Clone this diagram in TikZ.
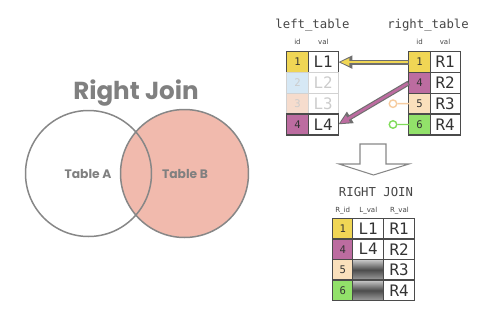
\documentclass[tikz,border=0pt]{standalone}
\usepackage{fontspec}
\usepackage{tikz}
\usetikzlibrary{positioning,arrows.meta}

\newfontfamily\popfont{Poppins}
\newfontfamily\monofont{DejaVu Sans Mono}
\newfontfamily\labfont{DejaVu Sans}

\definecolor{vennline}{RGB}{135,135,135}
\definecolor{venntext}{RGB}{128,128,128}
\definecolor{salmon}{RGB}{241,186,173}
\definecolor{cellline}{RGB}{75,75,75}
\definecolor{keyyellow}{RGB}{240,214,85}
\definecolor{keypurple}{RGB}{188,108,160}
\definecolor{keyblue}{RGB}{214,232,245}
\definecolor{keypeach}{RGB}{246,220,205}
\definecolor{keysand}{RGB}{250,224,188}
\definecolor{keygreen}{RGB}{146,225,106}
\definecolor{dotpeach}{RGB}{246,204,160}
\definecolor{dotgreen}{RGB}{128,220,90}
\definecolor{hdtext}{RGB}{70,70,70}

\begin{document}
\begin{tikzpicture}[x=0.02cm, y=-0.02cm,
	venn/.style={draw=vennline, line width=0.85pt},
	cell/.style={draw=cellline, line width=0.8pt, inner sep=0pt, outer sep=0pt,
		minimum height=0.416cm, text=black!80, font=\monofont\fontsize{9}{9}\selectfont},
	idcell/.style={cell, minimum width=0.43cm, font=\monofont\fontsize{6}{6}\selectfont},
	valcell/.style={cell, minimum width=0.6cm},
	faded/.style={draw=gray!35, text=gray!40},
	nullcell/.style={top color=gray!40, bottom color=gray!75, middle color=black!70},
	tabhead/.style={text=hdtext, font=\monofont\fontsize{7}{7}\selectfont},
	colhead/.style={text=hdtext, font=\labfont\fontsize{4}{4}\selectfont},
	dot/.style={circle, draw, fill=white, line width=0.8pt, inner sep=0pt, minimum size=0.15cm}]
	\useasboundingbox (0,0) rectangle (484,318);

	% venn diagram
	\node[text=venntext, font=\popfont\bfseries\fontsize{14}{14}\selectfont] (title) at (136,93) {Right Join};
	\fill[salmon] (184.5,173.5) circle (64);
	\draw[venn] (88.5,173.5) circle (63);
	\draw[venn] (184.5,173.5) circle (64);
	\node[text=venntext, font=\popfont\bfseries\fontsize{7}{7}\selectfont] (tA) at (88,174) {Table A};
	\node[text=venntext, font=\popfont\bfseries\fontsize{7}{7}\selectfont] (tB) at (185,174) {Table B};

	% left table
	\node[tabhead] (lhead) at (312.5,25) {left\_table};
	\node[colhead] at (297.5,42) {id};
	\node[colhead] at (323.3,42) {val};
	\node[idcell, fill=keyyellow] (l1id) at (297.5,62.1) {1};
	\node[valcell, right=0pt of l1id] (l1val) {L1};
	\node[idcell, faded, fill=keyblue, below=0pt of l1id] (l2id) {2};
	\node[valcell, faded, right=0pt of l2id] (l2val) {L2};
	\node[idcell, faded, fill=keypeach, below=0pt of l2id] (l3id) {3};
	\node[valcell, faded, right=0pt of l3id] (l3val) {L3};
	\node[idcell, fill=keypurple, below=0pt of l3id] (l4id) {4};
	\node[valcell, right=0pt of l4id] (l4val) {L4};

	% right table
	\node[tabhead] (rhead) at (428,25) {right\_table};
	\node[colhead] at (419.5,42) {id};
	\node[colhead] at (445,42) {val};
	\node[idcell, fill=keyyellow] (r1id) at (419.5,62.1) {1};
	\node[valcell, right=0pt of r1id] (r1val) {R1};
	\node[idcell, fill=keypurple, below=0pt of r1id] (r2id) {4};
	\node[valcell, right=0pt of r2id] (r2val) {R2};
	\node[idcell, fill=keysand, below=0pt of r2id] (r3id) {5};
	\node[valcell, right=0pt of r3id] (r3val) {R3};
	\node[idcell, fill=keygreen, below=0pt of r3id] (r4id) {6};
	\node[valcell, right=0pt of r4id] (r4val) {R4};

	% matches
	\draw[line width=2.8pt, cellline!80, -{Triangle[length=8pt, width=7pt]}] (r1id.west) -- (l1val.east);
	\draw[line width=1.5pt, keyyellow, -{Triangle[length=5.2pt, width=4.2pt]}, shorten <=0.6pt, shorten >=1.2pt] (r1id.west) -- (l1val.east);
	\draw[line width=2.8pt, cellline!80, -{Triangle[length=8pt, width=7pt]}] (r2id.west) -- (l4val.east);
	\draw[line width=1.5pt, keypurple, -{Triangle[length=5.2pt, width=4.2pt]}, shorten <=0.6pt, shorten >=1.2pt] (r2id.west) -- (l4val.east);
	\node[dot, draw=dotpeach] (d3) at (393,103.7) {};
	\draw[dotpeach, line width=0.8pt] (d3) -- (r3id);
	\node[dot, draw=dotgreen] (d4) at (393,124.5) {};
	\draw[dotgreen, line width=0.8pt] (d4) -- (r4id);

	% big arrow down
	\draw[vennline, line width=0.6pt] (360,144) -- (386,144) -- (386,164) -- (409,164)
		-- (373.5,175) -- (339,164) -- (360,164) -- cycle;

	% result table
	\node[tabhead] (jhead) at (376,191.7) {RIGHT JOIN};
	\node[colhead] at (342.7,210.7) {R\_id};
	\node[colhead] at (368.3,210.7) {L\_val};
	\node[colhead] at (399.5,210.7) {R\_val};
	\node[idcell, minimum width=0.4cm, minimum height=0.412cm, fill=keyyellow] (j1id) at (342.7,228.6) {1};
	\node[valcell, minimum width=0.62cm, minimum height=0.412cm, right=0pt of j1id] (j1l) {L1};
	\node[valcell, minimum width=0.62cm, minimum height=0.412cm, right=0pt of j1l] (j1r) {R1};
	\node[idcell, minimum width=0.4cm, minimum height=0.412cm, fill=keypurple, below=0pt of j1id] (j2id) {4};
	\node[valcell, minimum width=0.62cm, minimum height=0.412cm, right=0pt of j2id] (j2l) {L4};
	\node[valcell, minimum width=0.62cm, minimum height=0.412cm, right=0pt of j2l] (j2r) {R2};
	\node[idcell, minimum width=0.4cm, minimum height=0.412cm, fill=keysand, below=0pt of j2id] (j3id) {5};
	\node[valcell, nullcell, minimum width=0.62cm, minimum height=0.412cm, right=0pt of j3id] (j3l) {};
	\node[valcell, minimum width=0.62cm, minimum height=0.412cm, right=0pt of j3l] (j3r) {R3};
	\node[idcell, minimum width=0.4cm, minimum height=0.412cm, fill=keygreen, below=0pt of j3id] (j4id) {6};
	\node[valcell, nullcell, minimum width=0.62cm, minimum height=0.412cm, right=0pt of j4id] (j4l) {};
	\node[valcell, minimum width=0.62cm, minimum height=0.412cm, right=0pt of j4l] (j4r) {R4};
\end{tikzpicture}
\end{document}
